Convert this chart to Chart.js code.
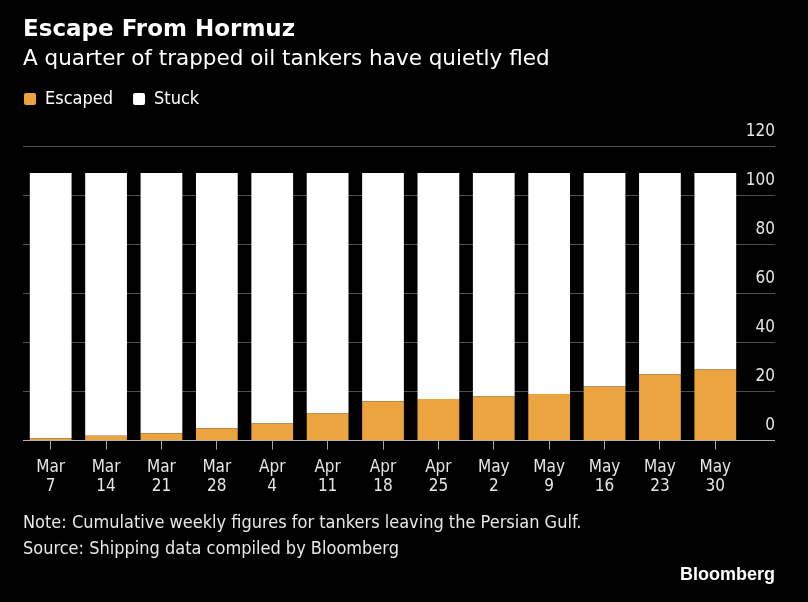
<!DOCTYPE html>
<html>
<head>
<meta charset="utf-8">
<script src="https://cdn.jsdelivr.net/npm/chart.js@4"></script>
<style>
  html, body { margin: 0; padding: 0; background: #000; }
  #wrap { position: relative; width: 808px; height: 602px; }
  .foot { position: absolute; left: 23px; color: #e8e8e8; font: 18px "DejaVu Sans Condensed", "DejaVu Sans", sans-serif; line-height: 18px; white-space: nowrap; }
  #brand { position: absolute; right: 33px; top: 565px; color: #fff; font: bold 18px "Liberation Sans", Arial, sans-serif; line-height: 18px; }
</style>
</head>
<body>
<div id="wrap">
  <canvas id="my-Chart" width="808" height="602"></canvas>
  <div class="foot" style="top:513px">Note: Cumulative weekly figures for tankers leaving the Persian Gulf.</div>
  <div class="foot" style="top:539px">Source: Shipping data compiled by Bloomberg</div>
  <div id="brand">Bloomberg</div>
</div>
<script>
// dados
const semanas = [['Mar', '7'], ['Mar', '14'], ['Mar', '21'], ['Mar', '28'], ['Apr', '4'], ['Apr', '11'],
    ['Apr', '18'], ['Apr', '25'], ['May', '2'], ['May', '9'], ['May', '16'], ['May', '23'], ['May', '30']];
const escapados = [1, 2, 3, 5, 7, 11, 16, 17, 18, 19, 22, 27, 29];
const presos = [108, 107, 106, 104, 102, 98, 93, 92, 91, 90, 87, 82, 80];
const yTicks = [0, 20, 40, 60, 80, 100, 120];

const fonteNarrow = '"DejaVu Sans Condensed", "DejaVu Sans", sans-serif';

// espaco extra abaixo da legenda e legenda encostada na esquerda
const legendTweak = {
    id: 'legendTweak',
    beforeInit(chart) {
        const leg = chart.legend;
        const fitOrig = leg.fit;
        leg.fit = function () {
            fitOrig.bind(leg)();
            this.height += 28;
        };
        const drawOrig = leg.draw;
        leg.draw = function () {
            const c = chart.ctx;
            c.save();
            c.translate(-19, 0);
            drawOrig.bind(leg)();
            c.restore();
        };
    }
};

function plotChart() {
    const ctx = document.querySelector('#my-Chart');

    new Chart(ctx, {
        type: 'bar',
        data: {
            labels: semanas,
            datasets: [
                {
                    label: 'Escaped',
                    data: escapados,
                    backgroundColor: '#eba43f',
                    borderWidth: 0,
                },
                {
                    label: 'Stuck',
                    data: presos,
                    backgroundColor: '#ffffff',
                    borderWidth: 0,
                }
            ]
        },
        plugins: [legendTweak],
        options: {
            responsive: false,
            animation: false,
            layout: { padding: { left: 23, right: 33, top: 0, bottom: 97 } },
            datasets: {
                bar: { barPercentage: 0.754, categoryPercentage: 1 }
            },
            plugins: {
                title: {
                    display: true,
                    text: 'Escape From Hormuz',
                    align: 'start',
                    color: '#ffffff',
                    font: { family: '"DejaVu Sans", sans-serif', size: 23, weight: 'bold', lineHeight: 1.2 },
                    padding: { top: 16, bottom: 0 }
                },
                subtitle: {
                    display: true,
                    text: 'A quarter of trapped oil tankers have quietly fled',
                    align: 'start',
                    color: '#ffffff',
                    font: { family: '"DejaVu Sans", sans-serif', size: 21.5, lineHeight: 1.0 },
                    padding: { top: 5, bottom: 0 }
                },
                legend: {
                    display: true,
                    position: 'top',
                    align: 'start',
                    labels: {
                        color: '#ffffff',
                        font: { family: fonteNarrow, size: 18 },
                        boxWidth: 12,
                        boxHeight: 12,
                        useBorderRadius: true,
                        borderRadius: 2,
                        padding: 20
                    }
                },
                tooltip: { enabled: false }
            },
            scales: {
                x: {
                    stacked: true,
                    grid: {
                        display: true,
                        offset: false,
                        drawOnChartArea: false,
                        drawTicks: true,
                        tickLength: 9,
                        color: '#a8a8a8'
                    },
                    border: { display: false },
                    ticks: {
                        color: '#e6e6e6',
                        font: { family: fonteNarrow, size: 17, lineHeight: 1.1 },
                        padding: 9,
                        maxRotation: 0,
                        autoSkip: false
                    }
                },
                y: {
                    stacked: true,
                    position: 'right',
                    min: 0,
                    max: 120,
                    afterBuildTicks: (scale) => {
                        scale.ticks = yTicks.map(v => ({ value: v }));
                    },
                    afterFit: (scale) => {
                        scale.width = 32;
                    },
                    grid: {
                        color: (c) => (c.tick && c.tick.value === 0 ? '#b0b0b0' : '#505050'),
                        lineWidth: 1,
                        drawTicks: true,
                        tickLength: 32
                    },
                    border: { display: false },
                    ticks: {
                        color: '#e6e6e6',
                        font: { family: fonteNarrow, size: 17 },
                        crossAlign: 'far',
                        labelOffset: -15,
                        padding: 0
                    }
                }
            }
        }
    });
}

document.addEventListener("DOMContentLoaded", plotChart);
</script>
</body>
</html>
